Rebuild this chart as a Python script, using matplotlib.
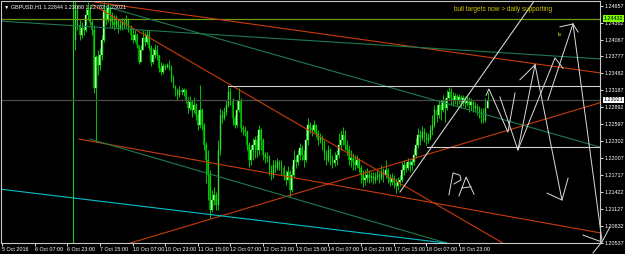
import matplotlib
matplotlib.use('Agg')
import matplotlib.pyplot as plt

plt.rcParams['font.family'] = ['Liberation Sans', 'DejaVu Sans']

# GBPUSD H1 - bar 0 is 5 Oct 2016 15:00, candles start at bar 36
first_bar = 36
first_open = 1.2406
closes = [1.2458, 1.2432, 1.2415, 1.2427, 1.2423, 1.2450, 1.2458, 1.2437, 1.2423, 1.2323,
          1.2377, 1.2363, 1.2380, 1.2406, 1.2458, 1.2441, 1.2462, 1.2450, 1.2437, 1.2432,
          1.2441, 1.2427, 1.2432, 1.2437, 1.2432, 1.2441, 1.2427, 1.2415, 1.2406, 1.2415,
          1.2397, 1.2368, 1.2389, 1.2410, 1.2403, 1.2415, 1.2392, 1.2368, 1.2380, 1.2389,
          1.2380, 1.2357, 1.2350, 1.2361, 1.2359, 1.2363, 1.2357, 1.2340, 1.2326, 1.2319,
          1.2311, 1.2319, 1.2316, 1.2319, 1.2302, 1.2288, 1.2298, 1.2284, 1.2293, 1.2276,
          1.2258, 1.2284, 1.2258, 1.2224, 1.2198, 1.2171, 1.2111, 1.2128, 1.2137, 1.2119,
          1.2215, 1.2276, 1.2271, 1.2281, 1.2293, 1.2316, 1.2302, 1.2271, 1.2258, 1.2284,
          1.2302, 1.2253, 1.2250, 1.2246, 1.2224, 1.2198, 1.2215, 1.2224, 1.2232, 1.2215,
          1.2250, 1.2232, 1.2206, 1.2203, 1.2201, 1.2180, 1.2171, 1.2189, 1.2184, 1.2194,
          1.2189, 1.2184, 1.2171, 1.2163, 1.2177, 1.2145, 1.2171, 1.2198, 1.2194, 1.2206,
          1.2218, 1.2206, 1.2198, 1.2232, 1.2258, 1.2253, 1.2250, 1.2258, 1.2244, 1.2232,
          1.2236, 1.2224, 1.2206, 1.2198, 1.2215, 1.2201, 1.2192, 1.2198, 1.2206, 1.2224,
          1.2232, 1.2241, 1.2224, 1.2215, 1.2198, 1.2201, 1.2194, 1.2189, 1.2198, 1.2184,
          1.2171, 1.2163, 1.2166, 1.2171, 1.2166, 1.2170, 1.2163, 1.2168, 1.2171, 1.2166,
          1.2177, 1.2171, 1.2180, 1.2166, 1.2159, 1.2166, 1.2158, 1.2152, 1.2159, 1.2163,
          1.2180, 1.2189, 1.2184, 1.2194, 1.2189, 1.2194, 1.2206, 1.2224, 1.2241, 1.2236,
          1.2246, 1.2241, 1.2232, 1.2236, 1.2250, 1.2258, 1.2284, 1.2276, 1.2293, 1.2284,
          1.2302, 1.2288, 1.2305, 1.2316, 1.2305, 1.2302, 1.2309, 1.2302, 1.2307, 1.2298,
          1.2305, 1.2297, 1.2302, 1.2293, 1.2298, 1.2288, 1.2291, 1.2284, 1.2281, 1.2271,
          1.2267, 1.2288, 1.2302]
highs = [1.2476, 1.2467, 1.2441, 1.2437, 1.2432, 1.2462, 1.2472, 1.2467, 1.2441, 1.2432,
         1.2380, 1.2389, 1.2392, 1.2415, 1.2472, 1.2467, 1.2470, 1.2467, 1.2455, 1.2450,
         1.2450, 1.2444, 1.2441, 1.2444, 1.2444, 1.2450, 1.2444, 1.2432, 1.2427, 1.2423,
         1.2418, 1.2397, 1.2397, 1.2423, 1.2420, 1.2423, 1.2423, 1.2397, 1.2392, 1.2399,
         1.2397, 1.2380, 1.2368, 1.2366, 1.2364, 1.2366, 1.2371, 1.2363, 1.2345, 1.2328,
         1.2323, 1.2326, 1.2323, 1.2323, 1.2321, 1.2307, 1.2309, 1.2302, 1.2307, 1.2297,
         1.2284, 1.2328, 1.2288, 1.2262, 1.2229, 1.2215, 1.2180, 1.2145, 1.2151, 1.2142,
         1.2232, 1.2288, 1.2284, 1.2290, 1.2302, 1.2328, 1.2323, 1.2305, 1.2276, 1.2302,
         1.2323, 1.2305, 1.2258, 1.2257, 1.2250, 1.2229, 1.2224, 1.2236, 1.2239, 1.2241,
         1.2258, 1.2253, 1.2236, 1.2211, 1.2211, 1.2206, 1.2189, 1.2198, 1.2198, 1.2201,
         1.2198, 1.2198, 1.2189, 1.2180, 1.2187, 1.2180, 1.2189, 1.2215, 1.2206, 1.2215,
         1.2227, 1.2224, 1.2215, 1.2253, 1.2271, 1.2264, 1.2258, 1.2267, 1.2260, 1.2250,
         1.2244, 1.2241, 1.2232, 1.2215, 1.2224, 1.2218, 1.2206, 1.2211, 1.2215, 1.2244,
         1.2250, 1.2255, 1.2250, 1.2232, 1.2224, 1.2215, 1.2210, 1.2206, 1.2206, 1.2201,
         1.2189, 1.2180, 1.2180, 1.2184, 1.2180, 1.2177, 1.2177, 1.2177, 1.2180, 1.2177,
         1.2189, 1.2184, 1.2198, 1.2184, 1.2173, 1.2175, 1.2171, 1.2166, 1.2168, 1.2171,
         1.2194, 1.2198, 1.2194, 1.2201, 1.2198, 1.2201, 1.2218, 1.2236, 1.2253, 1.2250,
         1.2257, 1.2253, 1.2246, 1.2244, 1.2258, 1.2276, 1.2293, 1.2293, 1.2302, 1.2302,
         1.2311, 1.2305, 1.2319, 1.2324, 1.2323, 1.2316, 1.2314, 1.2312, 1.2312, 1.2311,
         1.2311, 1.2309, 1.2311, 1.2307, 1.2305, 1.2302, 1.2298, 1.2295, 1.2291, 1.2288,
         1.2288, 1.2305, 1.2316]
lows = [1.2389, 1.2423, 1.2406, 1.2410, 1.2415, 1.2420, 1.2441, 1.2432, 1.2415, 1.2314,
        1.2229, 1.2345, 1.2354, 1.2371, 1.2403, 1.2432, 1.2437, 1.2429, 1.2427, 1.2423,
        1.2427, 1.2418, 1.2423, 1.2423, 1.2427, 1.2427, 1.2420, 1.2406, 1.2401, 1.2403,
        1.2392, 1.2364, 1.2368, 1.2389, 1.2396, 1.2399, 1.2389, 1.2361, 1.2364, 1.2375,
        1.2371, 1.2350, 1.2345, 1.2347, 1.2354, 1.2357, 1.2354, 1.2333, 1.2323, 1.2309,
        1.2302, 1.2307, 1.2311, 1.2309, 1.2297, 1.2279, 1.2284, 1.2272, 1.2279, 1.2267,
        1.2250, 1.2253, 1.2250, 1.2215, 1.2158, 1.2128, 1.2097, 1.2107, 1.2119, 1.2111,
        1.2111, 1.2206, 1.2262, 1.2267, 1.2276, 1.2290, 1.2293, 1.2258, 1.2253, 1.2255,
        1.2281, 1.2246, 1.2241, 1.2239, 1.2215, 1.2185, 1.2189, 1.2198, 1.2201, 1.2203,
        1.2206, 1.2215, 1.2198, 1.2192, 1.2194, 1.2171, 1.2163, 1.2166, 1.2177, 1.2180,
        1.2180, 1.2171, 1.2163, 1.2154, 1.2163, 1.2133, 1.2142, 1.2166, 1.2184, 1.2189,
        1.2198, 1.2198, 1.2185, 1.2194, 1.2224, 1.2244, 1.2239, 1.2246, 1.2237, 1.2224,
        1.2227, 1.2215, 1.2198, 1.2189, 1.2194, 1.2189, 1.2184, 1.2187, 1.2189, 1.2201,
        1.2215, 1.2224, 1.2215, 1.2206, 1.2189, 1.2185, 1.2180, 1.2180, 1.2184, 1.2177,
        1.2158, 1.2151, 1.2154, 1.2159, 1.2158, 1.2159, 1.2156, 1.2158, 1.2163, 1.2158,
        1.2163, 1.2159, 1.2166, 1.2158, 1.2152, 1.2154, 1.2149, 1.2140, 1.2145, 1.2152,
        1.2159, 1.2171, 1.2177, 1.2180, 1.2177, 1.2180, 1.2189, 1.2201, 1.2218, 1.2224,
        1.2232, 1.2229, 1.2224, 1.2227, 1.2232, 1.2241, 1.2255, 1.2264, 1.2271, 1.2267,
        1.2281, 1.2264, 1.2284, 1.2302, 1.2293, 1.2291, 1.2295, 1.2291, 1.2295, 1.2288,
        1.2291, 1.2288, 1.2291, 1.2281, 1.2284, 1.2281, 1.2281, 1.2276, 1.2271, 1.2262,
        1.2262, 1.2264, 1.2288]

price_ticks = [1.24657, 1.24362, 1.24067, 1.23777, 1.23482, 1.23187, 1.22892, 1.22597,
               1.22302, 1.22007, 1.21717, 1.21422, 1.21127, 1.20832, 1.20537]
time_labels = ['5 Oct 2016', '6 Oct 07:00', '6 Oct 23:00', '7 Oct 15:00', '10 Oct 07:00',
               '10 Oct 23:00', '11 Oct 15:00', '12 Oct 07:00', '12 Oct 23:00', '13 Oct 15:00',
               '14 Oct 07:00', '14 Oct 23:00', '17 Oct 15:00', '18 Oct 07:00', '18 Oct 23:00']
bars_per_label = 16

level_green = 1.24432   # horizontal line, highlighted on the price scale
last_price = 1.23021    # bid line

# trend lines as (bar, price) pairs
red_lines = [[(45.6, 1.2472), (293.1, 1.2349)],
             [(44.6, 1.2467), (245.6, 1.2053)],
             [(37.7, 1.2234), (293.1, 1.2071)],
             [(62.7, 1.2053), (293.1, 1.2297)]]
green_lines = [[(48.0, 1.2467), (293.1, 1.2220)],
               [(-1.0, 1.2439), (294.6, 1.2373)],
               [(43.1, 1.2234), (218.1, 1.2053)]]
cyan_lines = [[(-1.0, 1.2147), (218.1, 1.2053)]]
white_lines = [[(110.8, 1.2326), (293.1, 1.2326)],
               [(208.3, 1.2220), (293.1, 1.2220)],
               [(195.1, 1.2142), (261.3, 1.2476)]]
# hand drawn strokes
sketch = [[(237.3, 1.2310), (238.7, 1.2321), (248.0, 1.2246), (251.5, 1.2314)],
          [(244.1, 1.2307), (252.9, 1.2215), (261.3, 1.2363)],
          [(253.9, 1.2337), (261.3, 1.2363)],
          [(261.3, 1.2363), (274.5, 1.2128)],
          [(267.2, 1.2140), (274.5, 1.2128), (277.5, 1.2166)],
          [(252.9, 1.2215), (271.1, 1.2375), (275.0, 1.2357)],
          [(267.6, 1.2302), (279.9, 1.2434)],
          [(273.5, 1.2429), (279.9, 1.2434), (282.4, 1.2420)],
          [(279.9, 1.2434), (294.1, 1.2058)],
          [(284.8, 1.2067), (294.1, 1.2055), (298.0, 1.2081)],
          [(289.7, 1.2036), (294.1, 1.2055)],
          # "PA"
          [(219.1, 1.2137), (221.1, 1.2175), (224.5, 1.2171), (225.0, 1.2163),
           (221.6, 1.2156)],
          [(224.0, 1.2135), (227.5, 1.2168), (231.4, 1.2138)],
          [(225.5, 1.2149), (229.9, 1.2151)]]

fig = plt.figure(figsize=(6.25, 2.54), dpi=100, facecolor='black')
ax = fig.add_axes([1.5 / 625, 1 - 243 / 254, 598.5 / 625, 242 / 254])
ax.set_facecolor('black')

# candles
opens = [first_open] + closes[:-1]
for k in range(len(closes)):
    x = first_bar + k
    o, c = opens[k], closes[k]
    ax.vlines(x, lows[k], highs[k], color='#00e600', lw=0.6)
    body = '#b4ffb4' if c >= o else '#008c00'
    ax.bar(x, abs(c - o) or 0.00003, bottom=min(o, c), width=0.7,
           color=body, edgecolor=body, linewidth=0.2)

ax.axvline(35, color='#1ec81e', lw=0.8)
ax.axhline(level_green, color='#6e9a14', lw=0.9)
ax.axhline(last_price, color='#4a4a4a', lw=0.9)

for group, col in [(red_lines, '#c83c0a'), (green_lines, '#1e7a50'),
                   (cyan_lines, '#00c0c8'), (white_lines, '#d2d2d2')]:
    for seg in group:
        ax.plot([p[0] for p in seg], [p[1] for p in seg], color=col, lw=0.8)
for seg in sketch:
    ax.plot([p[0] for p in seg], [p[1] for p in seg], color='#dcdcdc', lw=0.7,
            clip_on=False)

ax.set_xlim(-0.25, 293.15)
ax.set_ylim(1.20533, 1.24739)

ax.yaxis.tick_right()
ax.set_yticks(price_ticks)
ax.set_yticklabels(['%.5f' % p for p in price_ticks])
ax.set_xticks([i * bars_per_label for i in range(len(time_labels))])
ax.set_xticklabels(time_labels, ha='left')
ax.tick_params(colors='white', labelsize=3.9, length=2, width=0.6, pad=1.2)
for s in ax.spines.values():
    s.set_color('#c8c8c8')
    s.set_linewidth(0.8)

trans = ax.get_yaxis_transform()
ax.text(1.006, level_green, '%.5f' % level_green, transform=trans, fontsize=3.9,
        color='black', va='center', ha='left',
        bbox=dict(boxstyle='square,pad=0.15', fc='#7cfc00', ec='none'))
ax.text(1.006, last_price, '%.5f' % last_price, transform=trans, fontsize=3.9,
        color='black', va='center', ha='left',
        bbox=dict(boxstyle='square,pad=0.15', fc='white', ec='none'))

ax.text(0.004, 0.975, '\u25bc GBPUSD,H1 1.22844 1.23088 1.22762 1.23021',
        transform=ax.transAxes, fontsize=3.9, color='white', va='center')
ax.text(503 / 600, 0.965, 'bull targets now > daily supporting',
        transform=ax.transAxes, fontsize=4.7, color='#d2c800', ha='center', va='center')
ax.text(273.5, 1.2415, 'iv', fontsize=4.6, color='#d2c800', ha='center', va='center')

fig.savefig('out.png', dpi=100, facecolor='black')
